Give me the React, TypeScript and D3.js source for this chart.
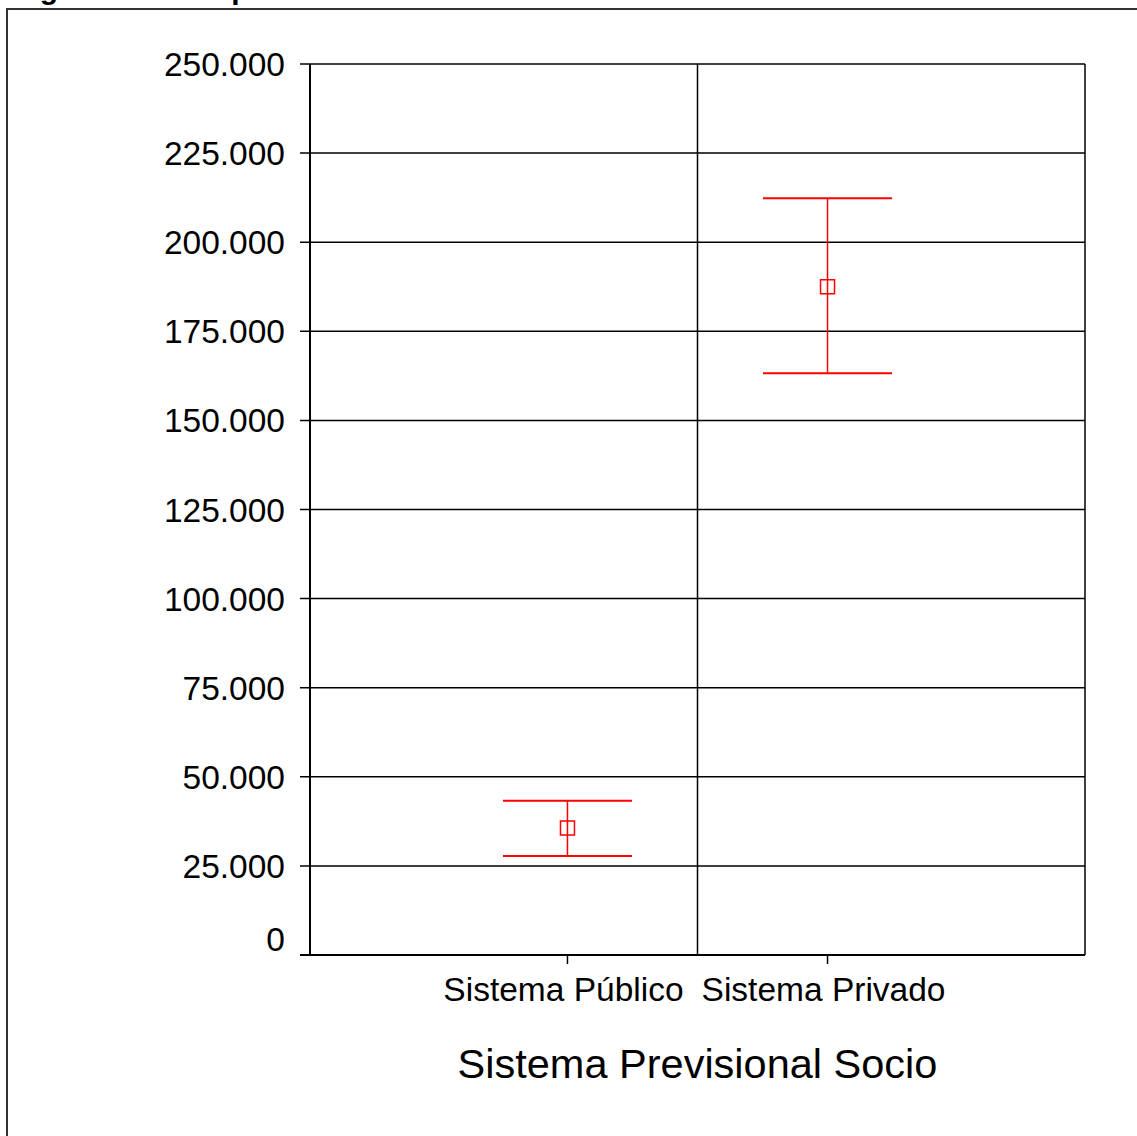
import React, { useEffect, useRef } from "react";
import * as d3 from "d3";

const categories = ["Sistema Público", "Sistema Privado"];
const means = [35630, 187500];
const lower = [27780, 163200];
const upper = [43300, 212300];
const yTicks = [0, 25000, 50000, 75000, 100000, 125000, 150000, 175000, 200000, 225000, 250000];
const title = "Figura 12: Comparación de medias";
const xTitle = "Sistema Previsional Socio";

const locale = d3.formatLocale({ decimal: ",", thousands: ".", grouping: [3], currency: ["", ""] });
const fmt = locale.format(",d");

export default function App() {
  const svgRef = useRef<SVGSVGElement>(null);
  const width = 1137;
  const height = 1136;
  const marginLeft = 310;
  const marginRight = 1085;
  const marginTop = 64;
  const marginBottom = 955;

  useEffect(() => {
    const svg = d3.select(svgRef.current);
    svg.selectAll("*").remove();
    const font = "'Liberation Sans', Arial, sans-serif";

    const x = d3.scalePoint<string>().domain(categories).range([marginLeft, marginRight]).padding(0.99);
    const y = d3.scaleLinear().domain([0, 250000]).range([marginBottom, marginTop]);

    // title is cut off at the top edge, like in the source image
    svg
      .append("text")
      .attr("x", 13)
      .attr("y", -1)
      .attr("font-family", font)
      .attr("font-weight", "bold")
      .attr("font-size", 30)
      .text(title);
    svg
      .append("path")
      .attr("d", `M7,${height + 2}V9H${width + 2}`)
      .attr("fill", "none")
      .attr("stroke", "#333")
      .attr("stroke-width", 2);

    // horizontal gridlines + left ticks
    svg
      .append("g")
      .selectAll("line")
      .data(yTicks)
      .join("line")
      .attr("x1", marginLeft - 10)
      .attr("x2", marginRight)
      .attr("y1", (d) => y(d))
      .attr("y2", (d) => y(d))
      .attr("stroke", "#000")
      .attr("stroke-width", (d) => (d === 0 ? 2 : 1.5));

    svg
      .append("g")
      .selectAll("text")
      .data(yTicks)
      .join("text")
      .attr("x", marginLeft - 25)
      .attr("y", (d) => (d === 0 ? y(d) - 4 : y(d) + 12))
      .attr("text-anchor", "end")
      .attr("font-family", font)
      .attr("font-size", 33.5)
      .text((d) => fmt(d));

    // vertical lines: axis, divider, right edge
    const mid = ((x(categories[0]) as number) + (x(categories[1]) as number)) / 2;
    svg
      .append("g")
      .selectAll("line")
      .data([marginLeft, mid, marginRight])
      .join("line")
      .attr("x1", (d) => d)
      .attr("x2", (d) => d)
      .attr("y1", marginTop)
      .attr("y2", marginBottom)
      .attr("stroke", "#000")
      .attr("stroke-width", (d, i) => (i === 0 ? 2 : 1.5));

    // bottom ticks and labels
    svg
      .append("g")
      .selectAll("line")
      .data(categories)
      .join("line")
      .attr("x1", (d) => x(d) as number)
      .attr("x2", (d) => x(d) as number)
      .attr("y1", marginBottom)
      .attr("y2", marginBottom + 9)
      .attr("stroke", "#000")
      .attr("stroke-width", 1.5);

    svg
      .append("g")
      .selectAll("text")
      .data(categories)
      .join("text")
      .attr("x", (d) => (x(d) as number) - 4)
      .attr("y", 1001)
      .attr("text-anchor", "middle")
      .attr("font-family", font)
      .attr("font-size", 33.5)
      .text((d) => d);

    svg
      .append("text")
      .attr("x", (marginLeft + marginRight) / 2)
      .attr("y", 1078)
      .attr("text-anchor", "middle")
      .attr("font-family", font)
      .attr("font-size", 41.5)
      .text(xTitle);

    // error bars
    const red = "#ff0000";
    const cap = 64.5;
    const g = svg.append("g").attr("stroke", red).attr("fill", "none");
    categories.forEach((c, i) => {
      const cx = x(c) as number;
      g.append("line")
        .attr("x1", cx)
        .attr("x2", cx)
        .attr("y1", y(lower[i]))
        .attr("y2", y(upper[i]))
        .attr("stroke-width", 1.5);
      [lower[i], upper[i]].forEach((v) => {
        g.append("line")
          .attr("x1", cx - cap)
          .attr("x2", cx + cap)
          .attr("y1", y(v))
          .attr("y2", y(v))
          .attr("stroke-width", 2);
      });
      g.append("rect")
        .attr("x", cx - 7)
        .attr("y", y(means[i]) - 7)
        .attr("width", 14)
        .attr("height", 14)
        .attr("stroke-width", 1.5);
    });
  }, []);

  return (
    <div style={{ position: "absolute", left: 0, top: 0 }}>
      <svg ref={svgRef} width={width} height={height} style={{ display: "block", background: "#fff" }} />
    </div>
  );
}
